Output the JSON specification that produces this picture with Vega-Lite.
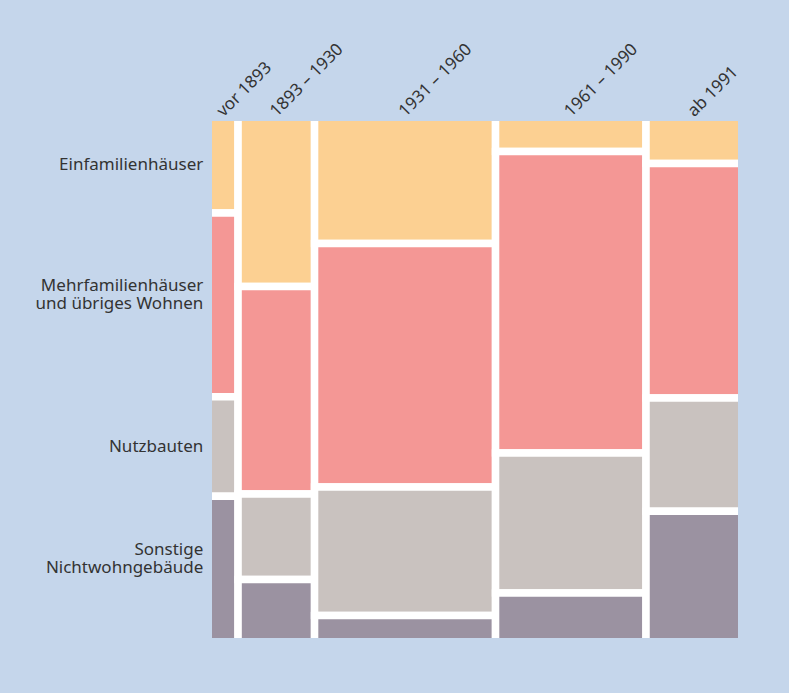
{
  "$schema": "https://vega.github.io/schema/vega-lite/v6.json",
  "width": 526,
  "height": 517,
  "autosize": "none",
  "padding": {"left": 212, "top": 121, "right": 51, "bottom": 55},
  "background": "#c5d6eb",
  "config": {"view": {"stroke": null}, "text": {"font": "Noto Sans", "fontSize": 17, "color": "#333333"}},
  "data": {
    "values": [
      {"period": "vor 1893", "po": 1, "category": "Einfamilienhäuser", "v": 1.02},
      {"period": "vor 1893", "po": 1, "category": "Mehrfamilienhäuser\nund übriges Wohnen", "v": 1.96},
      {"period": "vor 1893", "po": 1, "category": "Nutzbauten", "v": 1.06},
      {"period": "vor 1893", "po": 1, "category": "Sonstige\nNichtwohngebäude", "v": 1.55},
      {"period": "1893 – 1930", "po": 2, "category": "Einfamilienhäuser", "v": 4.63},
      {"period": "1893 – 1930", "po": 2, "category": "Mehrfamilienhäuser\nund übriges Wohnen", "v": 5.67},
      {"period": "1893 – 1930", "po": 2, "category": "Nutzbauten", "v": 2.34},
      {"period": "1893 – 1930", "po": 2, "category": "Sonstige\nNichtwohngebäude", "v": 1.70},
      {"period": "1931 – 1960", "po": 3, "category": "Einfamilienhäuser", "v": 8.17},
      {"period": "1931 – 1960", "po": 3, "category": "Mehrfamilienhäuser\nund übriges Wohnen", "v": 15.75},
      {"period": "1931 – 1960", "po": 3, "category": "Nutzbauten", "v": 8.31},
      {"period": "1931 – 1960", "po": 3, "category": "Sonstige\nNichtwohngebäude", "v": 1.70},
      {"period": "1961 – 1990", "po": 4, "category": "Einfamilienhäuser", "v": 1.84},
      {"period": "1961 – 1990", "po": 4, "category": "Mehrfamilienhäuser\nund übriges Wohnen", "v": 16.22},
      {"period": "1961 – 1990", "po": 4, "category": "Nutzbauten", "v": 7.53},
      {"period": "1961 – 1990", "po": 4, "category": "Sonstige\nNichtwohngebäude", "v": 2.62},
      {"period": "ab 1991", "po": 5, "category": "Einfamilienhäuser", "v": 1.58},
      {"period": "ab 1991", "po": 5, "category": "Mehrfamilienhäuser\nund übriges Wohnen", "v": 8.03},
      {"period": "ab 1991", "po": 5, "category": "Nutzbauten", "v": 3.87},
      {"period": "ab 1991", "po": 5, "category": "Sonstige\nNichtwohngebäude", "v": 4.47}
    ]
  },
  "transform": [
    {"stack": "v", "groupby": ["period"], "sort": [{"field": "category", "order": "ascending"}], "offset": "normalize", "as": ["y0", "y1"]},
    {"stack": "v", "groupby": [], "sort": [{"field": "po", "order": "ascending"}, {"field": "category", "order": "ascending"}], "offset": "normalize", "as": ["s0", "s1"]},
    {"joinaggregate": [{"op": "min", "field": "s0", "as": "x0"}, {"op": "max", "field": "s1", "as": "x1"}], "groupby": ["period"]}
  ],
  "layer": [
    {
      "mark": {"type": "rect", "stroke": "#ffffff", "strokeWidth": 7.5, "clip": true},
      "encoding": {
        "x": {"field": "x0", "type": "quantitative", "scale": {"domain": [0.00703, 0.99297], "nice": false, "zero": false}, "axis": null},
        "x2": {"field": "x1"},
        "y": {"field": "y0", "type": "quantitative", "scale": {"domain": [0.00715, 0.99285], "nice": false, "zero": false, "reverse": true}, "axis": null},
        "y2": {"field": "y1"},
        "color": {
          "field": "category", "type": "nominal", "legend": null,
          "scale": {
            "domain": ["Einfamilienhäuser", "Mehrfamilienhäuser\nund übriges Wohnen", "Nutzbauten", "Sonstige\nNichtwohngebäude"],
            "range": ["#fcd092", "#f49795", "#c9c2bf", "#9b92a1"]
          }
        }
      }
    },
    {
      "transform": [
        {"fold": ["x0", "x1"], "as": ["k", "xv"]},
        {"aggregate": [{"op": "mean", "field": "xv", "as": "mid"}], "groupby": ["period"]}
      ],
      "mark": {"type": "text", "angle": -45, "align": "left", "baseline": "alphabetic", "dx": 0, "dy": 0.5},
      "encoding": {
        "x": {"field": "mid", "type": "quantitative"},
        "y": {"datum": 0, "type": "quantitative"},
        "text": {"field": "period"}
      }
    },
    {
      "transform": [
        {"filter": "datum.po == 1"},
        {"fold": ["y0", "y1"], "as": ["k", "yv"]},
        {"aggregate": [{"op": "mean", "field": "yv", "as": "ymid"}], "groupby": ["category"]},
        {"filter": "indexof(datum.category, '\\n') < 0"}
      ],
      "mark": {"type": "text", "align": "right", "baseline": "middle", "dx": -5},
      "encoding": {
        "x": {"datum": 0, "type": "quantitative"},
        "y": {"field": "ymid", "type": "quantitative"},
        "text": {"field": "category"}
      }
    },
    {
      "transform": [
        {"filter": "datum.po == 1"},
        {"fold": ["y0", "y1"], "as": ["k", "yv"]},
        {"aggregate": [{"op": "mean", "field": "yv", "as": "ymid"}], "groupby": ["category"]},
        {"filter": "indexof(datum.category, '\\n') >= 0"}
      ],
      "mark": {"type": "text", "align": "right", "baseline": "middle", "dx": -5, "dy": -19, "lineHeight": 18, "lineBreak": "\n"},
      "encoding": {
        "x": {"datum": 0, "type": "quantitative"},
        "y": {"field": "ymid", "type": "quantitative"},
        "text": {"field": "category"}
      }
    }
  ]
}
